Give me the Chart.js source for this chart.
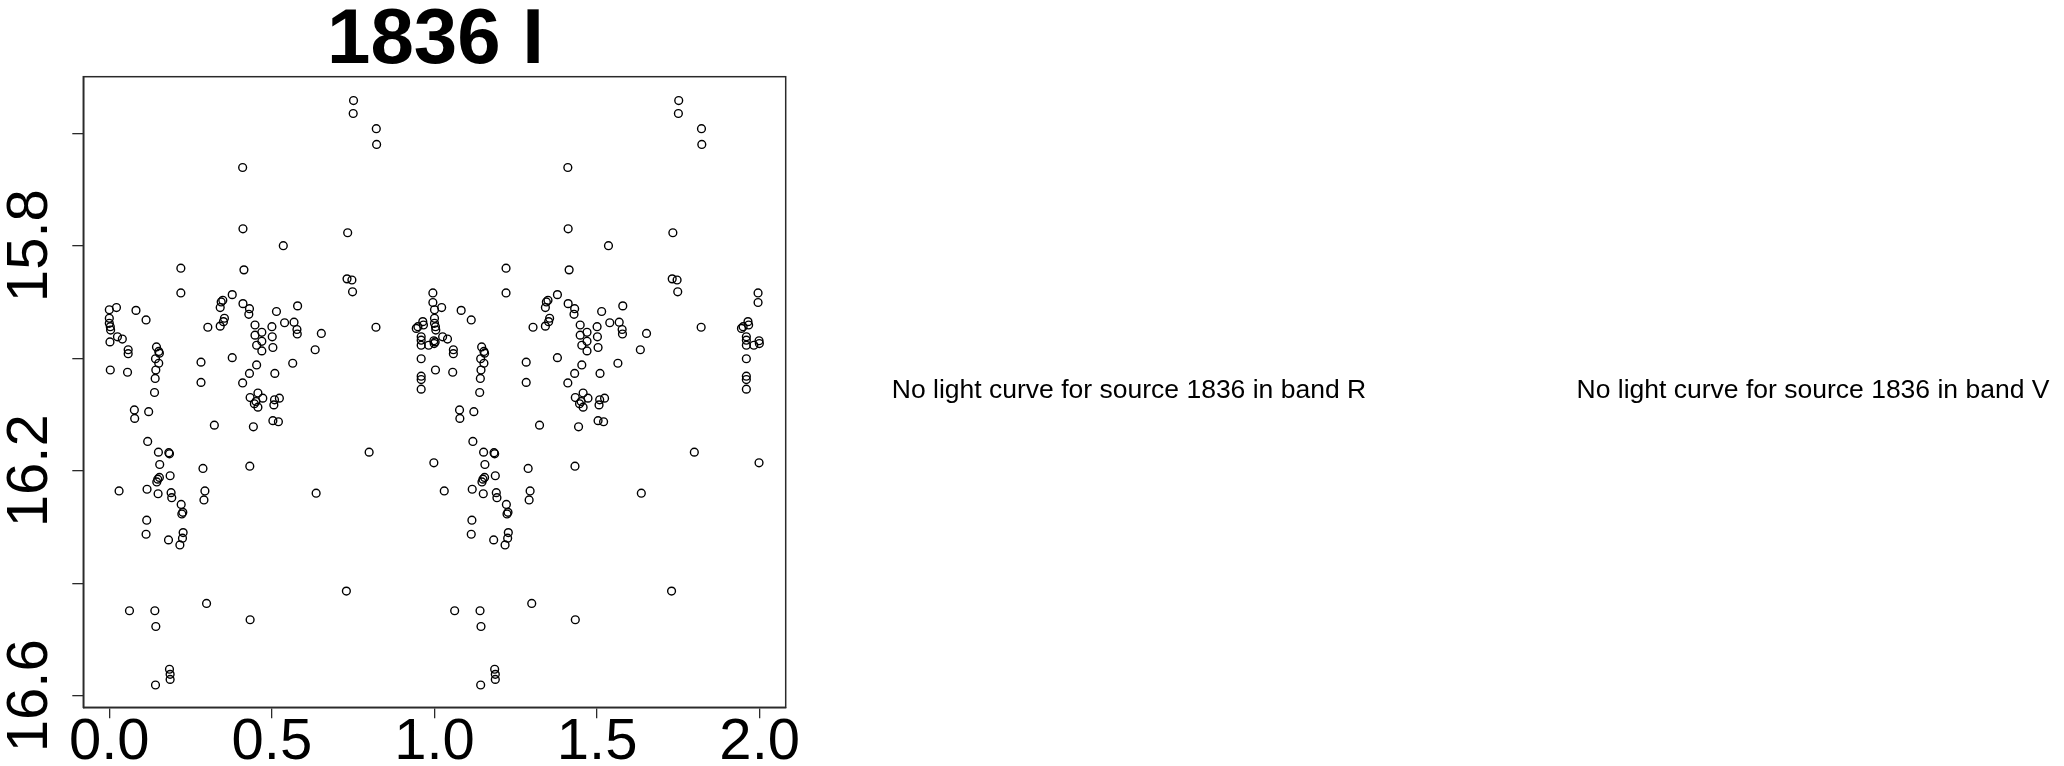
<!DOCTYPE html>
<html>
<head>
<meta charset="utf-8">
<script src="https://cdn.jsdelivr.net/npm/chart.js@4.4.1/dist/chart.umd.min.js"></script>
<style>
  html, body { margin: 0; padding: 0; background: #ffffff; }
  #wrap { position: relative; width: 2064px; height: 766px; }
  canvas { display: block; }
</style>
</head>
<body>
<div id="wrap"><canvas id="c" width="2064" height="766"></canvas></div>
<script>
// ---- data (phase, I-band magnitude), one cycle ----
const phase = [
  0.000, 0.022, 0.000, 0.000, 0.003, 0.004, 0.025, 0.040, 0.002, 0.058,
  0.058, 0.082, 0.113, 0.003, 0.056, 0.145, 0.152, 0.154, 0.142, 0.152,
  0.143, 0.141, 0.139, 0.077, 0.078, 0.121, 0.118, 0.151, 0.183, 0.185,
  0.155, 0.187, 0.154, 0.149, 0.146, 0.030, 0.116, 0.150, 0.190, 0.192,
  0.294, 0.291, 0.221, 0.226, 0.223, 0.115, 0.113, 0.182, 0.227, 0.225,
  0.217, 0.062, 0.140, 0.143, 0.185, 0.187, 0.187, 0.142, 0.220, 0.220,
  0.282, 0.282, 0.303, 0.323, 0.288, 0.299, 0.344, 0.349, 0.341, 0.354,
  0.351, 0.341, 0.378, 0.378, 0.410, 0.411, 0.414, 0.411, 0.431, 0.429,
  0.448, 0.469, 0.448, 0.469, 0.453, 0.469, 0.453, 0.431, 0.410, 0.433,
  0.457, 0.451, 0.446, 0.472, 0.457, 0.443, 0.432, 0.433, 0.500, 0.501,
  0.503, 0.514, 0.509, 0.508, 0.506, 0.523, 0.503, 0.520, 0.535, 0.539,
  0.568, 0.579, 0.577, 0.578, 0.564, 0.633, 0.652, 0.636, 0.751, 0.750,
  0.821, 0.822, 0.733, 0.731, 0.746, 0.748, 0.820, 0.799, 0.729,
  0.995, 0.995, 0.944, 0.949, 0.964, 0.966, 0.959, 0.959, 0.959, 0.982,
  0.998, 0.999, 0.959, 0.959, 0.959, 0.959, 0.998
];
const mag = [
  15.914, 15.910, 15.929, 15.938, 15.944, 15.950, 15.962, 15.966, 15.971, 15.985,
  15.992, 15.915, 15.932, 16.021, 16.025, 15.980, 15.988, 15.991, 16.001, 16.009,
  16.021, 16.036, 16.061, 16.092, 16.107, 16.095, 16.148, 16.167, 16.168, 16.170,
  16.189, 16.209, 16.212, 16.215, 16.220, 16.236, 16.233, 16.241, 16.239, 16.248,
  16.236, 16.252, 16.260, 16.274, 16.277, 16.288, 16.313, 16.323, 16.310, 16.320,
  16.332, 16.449, 16.449, 16.477, 16.553, 16.562, 16.571, 16.581, 15.840, 15.884,
  16.007, 16.043, 15.945, 16.119, 16.196, 16.436, 15.900, 15.897, 15.910, 15.929,
  15.935, 15.943, 15.887, 15.999, 15.661, 15.770, 15.843, 15.903, 15.912, 15.922,
  15.941, 15.954, 15.959, 15.970, 15.977, 15.987, 16.012, 16.027, 16.044, 16.070,
  16.062, 16.077, 16.081, 16.071, 16.087, 16.122, 16.192, 16.465, 15.944, 15.962,
  15.981, 15.917, 16.027, 16.074, 16.083, 16.071, 16.111, 16.113, 15.800, 15.937,
  15.936, 15.907, 15.949, 15.957, 16.009, 15.985, 15.956, 16.240, 15.542, 15.565,
  15.592, 15.620, 15.777, 15.859, 15.861, 15.882, 15.945, 16.167, 16.414,
  15.884, 15.901, 15.947, 15.944, 15.935, 15.941, 15.962, 15.968, 15.977, 15.977,
  15.969, 15.974, 16.001, 16.032, 16.038, 16.055, 16.186
];
// the light curve is shown over two cycles (phase and phase + 1)
const cycles = [0, 1];

const xTickValues = [0, 0.5, 1.0, 1.5, 2.0];
const xTickLabels = ['0.0', '0.5', '1.0', '1.5', '2.0'];
const yTickValues = [15.8, 16.2, 16.6];
const yTickLabels = ['15.8', '16.2', '16.6'];

const titleText = '1836 I';
const messages = [
  'No light curve for source 1836 in band R',
  'No light curve for source 1836 in band V'
];

// ---- build points ----
const points = [];
cycles.forEach(c => {
  phase.forEach((p, i) => points.push({ x: p + c, y: mag[i] }));
});

const FONT = '"Liberation Sans", Arial, Helvetica, sans-serif';
const AX = '#2a2a2a';

const textPlugin = {
  id: 'rtext',
  afterDraw(chart) {
    const ctx = chart.ctx;
    const a = chart.chartArea;
    const xs = chart.scales.x, ys = chart.scales.y;
    ctx.save();
    // box
    ctx.strokeStyle = AX;
    ctx.lineWidth = 1.5;
    ctx.strokeRect(a.left, a.top, a.right - a.left, a.bottom - a.top);
    ctx.fillStyle = '#000';
    // x tick labels
    ctx.font = '58px ' + FONT;
    ctx.textAlign = 'center';
    ctx.textBaseline = 'alphabetic';
    xTickValues.forEach((v, i) => {
      ctx.fillText(xTickLabels[i], xs.getPixelForValue(v), 759);
    });
    // y tick labels (rotated, reading upward)
    yTickValues.forEach((v, i) => {
      ctx.save();
      ctx.translate(47, ys.getPixelForValue(v));
      ctx.rotate(-Math.PI / 2);
      ctx.fillText(yTickLabels[i], 0, 0);
      ctx.restore();
    });
    // title
    ctx.font = 'bold 78px ' + FONT;
    ctx.fillText(titleText, (a.left + a.right) / 2 + 1, 63);
    // messages for the empty panels
    ctx.font = '26.5px ' + FONT;
    ctx.fillText(messages[0], 1129, 398);
    ctx.fillText(messages[1], 1813, 398);
    ctx.restore();
  }
};

new Chart(document.getElementById('c'), {
  type: 'scatter',
  data: {
    datasets: [{
      data: points,
      pointStyle: 'circle',
      pointRadius: 3.9,
      pointHoverRadius: 3.9,
      borderWidth: 1.4,
      borderColor: '#000000',
      backgroundColor: 'rgba(0,0,0,0)'
    }]
  },
  options: {
    responsive: false,
    animation: false,
    devicePixelRatio: 1,
    events: [],
    layout: { padding: { left: 0, right: 2064 - 785.7, top: 76.7, bottom: 0 } },
    plugins: { legend: { display: false }, tooltip: { enabled: false }, title: { display: false } },
    scales: {
      x: {
        type: 'linear',
        min: -0.08,
        max: 2.08,
        ticks: { stepSize: 0.5, includeBounds: false, display: false },
        grid: { display: true, drawOnChartArea: false, drawTicks: true, tickLength: 11, color: AX, lineWidth: 1.3 },
        border: { display: true, color: AX, width: 1.5 },
        afterFit: s => { s.height = 766 - 707.3; }
      },
      y: {
        type: 'linear',
        reverse: true,
        min: 15.4996,
        max: 16.6206,
        ticks: { stepSize: 0.2, includeBounds: false, display: false },
        grid: { display: true, drawOnChartArea: false, drawTicks: true, tickLength: 11, color: AX, lineWidth: 1.3 },
        border: { display: true, color: AX, width: 1.5 },
        afterFit: s => { s.width = 83.3; }
      }
    }
  },
  plugins: [textPlugin]
});
</script>
</body>
</html>
